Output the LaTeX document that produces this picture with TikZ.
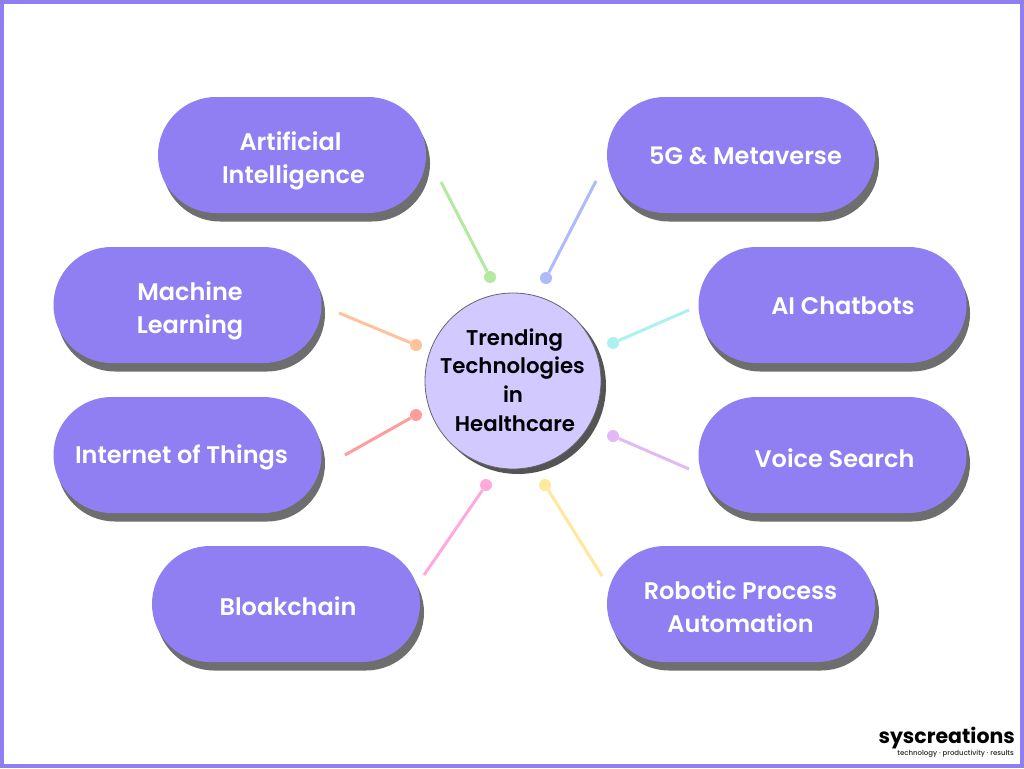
\documentclass[tikz,border=0pt]{standalone}
\usepackage{fontspec}
\setmainfont{Poppins}[UprightFont=* Medium,BoldFont=* SemiBold]
\newfontfamily\logofont{Poppins}[UprightFont=* Bold]
\definecolor{pillc}{HTML}{8F7FF2}
\definecolor{shadc}{HTML}{6E6E6E}
\definecolor{circc}{HTML}{D1C9FF}
\definecolor{lgreen}{HTML}{B5E8A0}
\definecolor{lblue}{HTML}{AEBBFB}
\definecolor{lorange}{HTML}{FFC39B}
\definecolor{lcyan}{HTML}{AEF0F0}
\definecolor{lred}{HTML}{FF9D9D}
\definecolor{lpurple}{HTML}{E2B9F5}
\definecolor{lpink}{HTML}{FFA9DC}
\definecolor{lyellow}{HTML}{FFE79B}
\tikzset{
 pillbox/.style={draw=none,fill=pillc,rounded corners=58pt,minimum width=268pt,minimum height=116pt,inner sep=0pt},
 pillshadow/.style={draw=none,fill=shadc,rounded corners=58pt,minimum width=268pt,minimum height=116pt,inner sep=0pt},
 pilltext/.style={text=white,font=\fontsize{24}{33}\selectfont\bfseries,align=center,inner sep=0pt},
 dotnode/.style={circle,minimum size=12pt,inner sep=0pt,fill=#1,draw=none},
 linkline/.style={line width=3pt,draw=#1},
}
\begin{document}
\begin{tikzpicture}[x=1pt,y=-1pt]
\useasboundingbox (0,0) rectangle (1024,768);
\fill[white] (0,0) rectangle (1024,768);
\draw[pillc,line width=4pt] (2,2) rectangle (1022,766);
% shadows
\node[pillshadow] (s1) at (296,163.5) {};
\node[pillshadow] (s2) at (745,163.5) {};
\node[pillshadow] (s3) at (191,313.5) {};
\node[pillshadow] (s4) at (191,463.5) {};
\node[pillshadow] (s5) at (290,612.5) {};
\node[pillshadow] (s6) at (745,612.5) {};
\node[pillshadow] (s7) at (836,313.5) {};
\node[pillshadow] (s8) at (836,463.5) {};
% pills
\node[pillbox] (ai) at (292,155) {};
\node[pillbox] (fiveg) at (741,155) {};
\node[pillbox] (ml) at (187.5,305) {};
\node[pillbox] (iot) at (187.5,455) {};
\node[pillbox] (bc) at (286,604) {};
\node[pillbox] (rpa) at (741,604) {};
\node[pillbox] (chat) at (832.5,305) {};
\node[pillbox] (voice) at (832.5,455) {};
% labels
\node[pilltext] (tai) at (293.5,161) {Artificial\hspace{6pt}\null\\Intelligence};
\node[pilltext] (tfg) at (745.5,156) {5G \& Metaverse};
\node[pilltext] (tml) at (190,311) {Machine\\Learning};
\node[pilltext] (tiot) at (181.5,457) {Internet of Things};
\node[pilltext] (tbc) at (288,606.5) {Bloakchain};
\node[pilltext] (trpa) at (740.5,606.5) {Robotic Process\\Automation};
\node[pilltext] (tchat) at (843,306) {AI Chatbots};
\node[pilltext] (tvoice) at (834.5,458) {Voice Search};
% centre
\node[circle,minimum size=176pt,inner sep=0pt,fill=black!67,draw=none] (cs) at (518,386) {};
\node[circle,minimum size=176pt,inner sep=0pt,fill=circc,draw=black!60,line width=0.8pt] (c) at (513,381) {};
\node[font=\fontsize{21.3}{28.7}\selectfont\bfseries,text=black,align=center,inner sep=0pt] (ct) at (512.5,380) {\hspace*{4pt}Trending\\Technologies\\\hspace*{1pt}in\\\hspace*{5pt}Healthcare};
% connectors
\coordinate (e1) at (441,182); \node[dotnode=lgreen] (d1) at (490,277) {};
\coordinate (e2) at (596,181); \node[dotnode=lblue] (d2) at (546,278) {};
\coordinate (e3) at (339,313); \node[dotnode=lorange] (d3) at (416,345) {};
\coordinate (e4) at (689,310); \node[dotnode=lcyan] (d4) at (613,343) {};
\coordinate (e5) at (345,455); \node[dotnode=lred] (d5) at (416,415) {};
\coordinate (e6) at (689,469); \node[dotnode=lpurple] (d6) at (613,436) {};
\coordinate (e7) at (424,575); \node[dotnode=lpink] (d7) at (486,485) {};
\coordinate (e8) at (602,576); \node[dotnode=lyellow] (d8) at (545,485) {};
\draw[linkline=lgreen] (e1) -- (d1);
\draw[linkline=lblue] (e2) -- (d2);
\draw[linkline=lorange] (e3) -- (d3);
\draw[linkline=lcyan] (e4) -- (d4);
\draw[linkline=lred] (e5) -- (d5);
\draw[linkline=lpurple] (e6) -- (d6);
\draw[linkline=lpink] (e7) -- (d7);
\draw[linkline=lyellow] (e8) -- (d8);
% logo
\node[font=\fontsize{20.5}{21}\logofont,text=black,inner sep=0pt,anchor=east] (logo) at (1015,738) {syscreations};
\node[font=\fontsize{7}{7}\selectfont,text=black!85,inner sep=0pt,anchor=east] (tag) at (1014,753.5) {technology · productivity · results};
\end{tikzpicture}
\end{document}
